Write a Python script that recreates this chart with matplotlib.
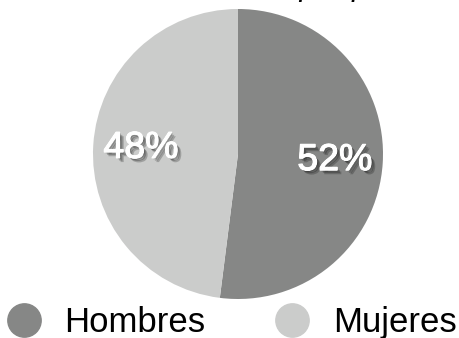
import matplotlib.pyplot as plt
import matplotlib.patheffects as pe
from matplotlib.lines import Line2D

plt.rcParams['font.family'] = ['Liberation Sans', 'DejaVu Sans']

# data
labels = ['Hombres', 'Mujeres']
values = [52, 48]
colors = ['#868786', '#cbcccb']
title = 'Distribución de sexos por porcentaje'

fig = plt.figure(figsize=(4.59, 3.38), dpi=100)
ax = fig.add_axes([0, 0, 1, 1])

wedges, texts, autotexts = ax.pie(
    values, colors=colors, startangle=90, counterclock=False,
    center=(238, 184), radius=145, autopct='%d%%', pctdistance=0.67,
    wedgeprops=dict(linewidth=0), frame=True)
ax.set_xlim(0, 459)
ax.set_ylim(0, 338)
ax.set_aspect('equal')
ax.axis('off')

# soft drop shadow under the percentages
shadow = [pe.withSimplePatchShadow(offset=(o, -o), shadow_rgbFace='black', alpha=0.22)
          for o in (1, 2, 3)]
for t in autotexts:
    t.set_color('white')
    t.set_fontsize(27)
    t.set_path_effects(shadow + [pe.Stroke(linewidth=0.8, foreground='white'), pe.Normal()])

# title clipped at the top edge (as in the source image)
ax.text(248, 335.5, title, ha='center', va='bottom', fontsize=22, style='italic')

handles = [Line2D([], [], marker='o', linestyle='', markersize=24, color=c) for c in colors]
fig.legend(handles, labels, loc='lower left', bbox_to_anchor=(0.015, -0.004), ncol=2,
           frameon=False, fontsize=25, handletextpad=0.66, columnspacing=2.0,
           handlelength=1.0, borderaxespad=0, borderpad=0)

fig.savefig('out.png', dpi=100)
